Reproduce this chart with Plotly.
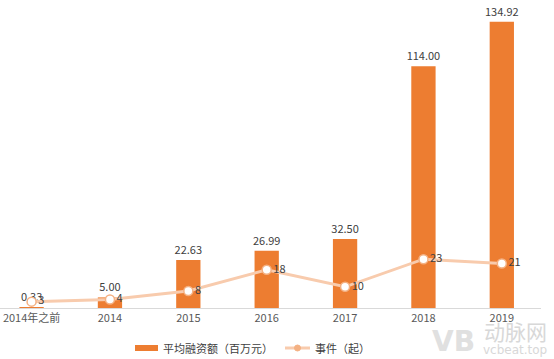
import plotly.graph_objects as go

categories = ["2014年之前", "2014", "2015", "2016", "2017", "2018", "2019"]
avg_financing = [0.33, 5.00, 22.63, 26.99, 32.50, 114.00, 134.92]
avg_labels = ["0.33", "5.00", "22.63", "26.99", "32.50", "114.00", "134.92"]
events = [3, 4, 8, 18, 10, 23, 21]

bar_name = "平均融资额（百万元）"
line_name = "事件（起）"

font_family = "Noto Sans CJK SC, Open Sans, sans-serif"
x_idx = list(range(len(categories)))

BAR_COLOR = "#ED7D31"
LINE_COLOR = "#F8CBAD"

fig = go.Figure()
fig.add_trace(go.Bar(
    x=x_idx, y=avg_financing, name=bar_name,
    marker=dict(color=BAR_COLOR, line=dict(width=0)),
    width=0.31,
    text=avg_labels, textposition="outside", cliponaxis=False,
    constraintext="none",
    textfont=dict(size=11, color="#404040"),
    showlegend=False,
))
fig.add_trace(go.Scatter(
    x=x_idx, y=events, name=line_name, mode="lines+markers+text",
    line=dict(color=LINE_COLOR, width=3),
    marker=dict(size=9, color="white", line=dict(color="#F4B183", width=1.5)),
    text=[str(v) for v in events], textposition="middle right",
    textfont=dict(size=11, color="#404040"), cliponaxis=False,
    showlegend=False,
))

W = 541.0   # plot width in px
TOP, BASE = 11.0, 308.0
H = BASE - TOP

def px(x):
    return x / W

def py(y):
    return (BASE - y) / H

fig.update_layout(
    width=554, height=359,
    margin=dict(l=0, r=13, t=11, b=51),
    paper_bgcolor="white", plot_bgcolor="white",
    font=dict(family=font_family, size=11, color="#595959"),
    showlegend=False,
    xaxis=dict(
        tickmode="array", tickvals=x_idx, ticktext=categories,
        range=[-0.403, 6.5], showgrid=False, zeroline=False,
        showline=True, linecolor="#D9D9D9", linewidth=1,
        ticks="", tickfont=dict(size=11, color="#595959"),
    ),
    yaxis=dict(range=[0, 140], visible=False, showgrid=False, zeroline=False),
)

# manual legend
ly = 348
fig.add_shape(type="rect", xref="paper", yref="paper",
              x0=px(135), x1=px(158), y0=py(351), y1=py(345),
              fillcolor=BAR_COLOR, line=dict(width=0))
fig.add_annotation(text=bar_name, x=px(161), y=py(ly), xref="paper", yref="paper",
                   xanchor="left", yanchor="middle", showarrow=False,
                   font=dict(size=11, color="#404040", family=font_family))
fig.add_shape(type="line", xref="paper", yref="paper",
              x0=px(285), x1=px(310), y0=py(ly), y1=py(ly),
              line=dict(color=LINE_COLOR, width=3))
fig.add_shape(type="circle", xref="paper", yref="paper",
              x0=px(294.5), x1=px(300.5), y0=py(351), y1=py(345),
              fillcolor="#F4B183", line=dict(color="#F4B183", width=1))
fig.add_annotation(text=line_name, x=px(313), y=py(ly), xref="paper", yref="paper",
                   xanchor="left", yanchor="middle", showarrow=False,
                   font=dict(size=11, color="#404040", family=font_family))

# watermark
fig.add_annotation(text="<b>VB</b>", x=px(453), y=py(341), xref="paper", yref="paper",
                   xanchor="center", yanchor="middle", showarrow=False,
                   font=dict(size=28, color="#E0E0E0", family="DejaVu Sans"))
fig.add_annotation(text="动脉网", x=px(549), y=py(331), xref="paper", yref="paper",
                   xanchor="right", yanchor="middle", showarrow=False,
                   font=dict(size=21, color="#D8D8D8", family=font_family))
fig.add_annotation(text="vcbeat.top", x=px(549), y=py(350), xref="paper", yref="paper",
                   xanchor="right", yanchor="middle", showarrow=False,
                   font=dict(size=12, color="#D8D8D8", family="DejaVu Sans"))

fig.write_html("out.html", config={"displayModeBar": False},
               post_script="document.body.style.margin='0';document.body.style.overflow='hidden';")
